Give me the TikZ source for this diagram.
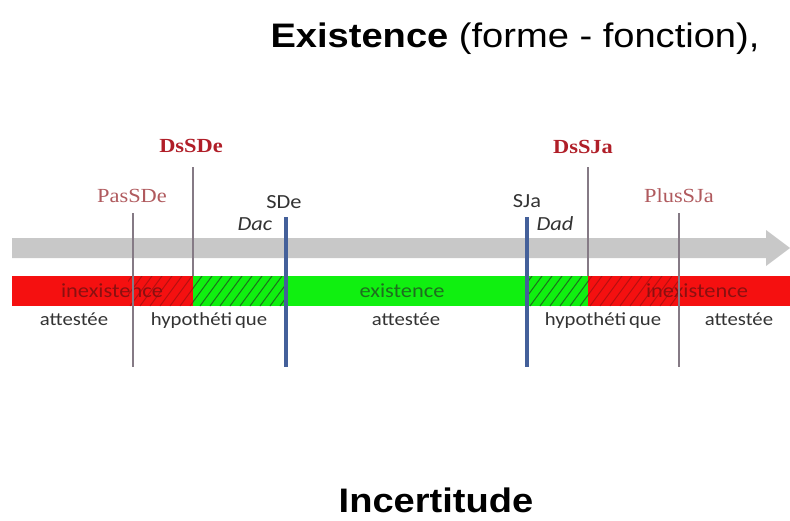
\documentclass[tikz,border=0pt]{standalone}
\usepackage{fontspec}
\setmainfont{Liberation Sans}[FakeStretch=1.12]
\newfontfamily\calfont{Carlito}[FakeStretch=1.12]
\newfontfamily\serfont{Liberation Serif}[FakeStretch=1.12]
\definecolor{arrowgray}{HTML}{C8C8C8}
\definecolor{barred}{HTML}{F51010}
\definecolor{bargreen}{HTML}{10F010}
\definecolor{hatchgreen}{HTML}{1E6E1E}
\definecolor{hatchred}{HTML}{8A1010}
\definecolor{labdark}{HTML}{B01E28}
\definecolor{labrose}{HTML}{B05A5E}
\definecolor{textgray}{HTML}{333333}
\definecolor{bluemark}{HTML}{44609A}
\definecolor{thinmark}{HTML}{857A85}
\begin{document}
\begin{tikzpicture}[x=1pt,y=-1pt,
  every node/.style={inner sep=0pt,outer sep=0pt},
  toplab/.style={anchor=base,font=\serfont\fontsize{20}{24}\selectfont},
  boldlab/.style={toplab,font=\serfont\bfseries\fontsize{20}{24}\selectfont,text=labdark},
  roselab/.style={toplab,text=labrose},
  sublab/.style={anchor=base,font=\calfont\fontsize{18.5}{22}\selectfont,text=textgray},
  datelab/.style={anchor=base,font=\calfont\fontsize{20}{24}\selectfont,text=textgray},
  itlab/.style={anchor=base,font=\calfont\itshape\fontsize{20}{24}\selectfont,text=textgray},
  barlab/.style={anchor=center,font=\calfont\fontsize{20}{24}\selectfont},
  thinline/.style={draw=thinmark,line width=1.3pt},
  blueline/.style={draw=bluemark,line width=3.4pt},
  hatchg/.style={draw=hatchgreen,line width=1pt},
  hatchr/.style={draw=hatchred,line width=1pt}]
\useasboundingbox (0,0) rectangle (790,520);
\fill[white] (0,0) rectangle (790,520);

% titles
\node[anchor=base,font=\fontsize{34}{40}\selectfont] (title) at (515,47) {\textbf{Existence} (forme - fonction),};
\node[anchor=base,font=\bfseries\fontsize{34}{40}\selectfont] (incert) at (436,512) {Incertitude};

% gray time arrow
\fill[arrowgray] (12,238) -- (766,238) -- (766,230) -- (790,248) -- (766,266) -- (766,258) -- (12,258) -- cycle;

% bar segments
\fill[barred] (12,276) rectangle (193,306);
\fill[bargreen] (193,276) rectangle (286,306);
\fill[bargreen] (286,276) rectangle (527,306);
\fill[bargreen] (527,276) rectangle (588,306);
\fill[barred] (588,276) rectangle (790,306);

% hatching
\begin{scope}
  \clip (193,276) rectangle (286,306);
  \foreach \i in {170,180,...,300} \draw[hatchg] (\i,306) -- ++(22,-30);
\end{scope}
\begin{scope}
  \clip (527,276) rectangle (588,306);
  \foreach \i in {500,510,...,600} \draw[hatchg] (\i,306) -- ++(22,-30);
\end{scope}
\begin{scope}
  \clip (128,276) rectangle (193,306);
  \foreach \i in {100,110,...,200} \draw[hatchr,opacity=0.6] (\i,306) -- ++(22,-30);
\end{scope}
\begin{scope}
  \clip (588,276) rectangle (680,306);
  \foreach \i in {560,570,...,690} \draw[hatchr,opacity=0.6] (\i,306) -- ++(22,-30);
\end{scope}

% bar texts
\node[barlab,text=hatchred] (inex1) at (112,291) {inexistence};
\node[barlab,text=hatchgreen] (ex) at (402,291) {existence};
\node[barlab,text=hatchred] (inex2) at (697,291) {inexistence};

% lower labels
\node[sublab] (att1) at (74,325) {attestée};
\node[sublab] (hyp1) at (209,325) {hypothéti\,que};
\node[sublab] (att2) at (406,325) {attestée};
\node[sublab] (hyp2) at (603,325) {hypothéti\,que};
\node[sublab] (att3) at (739,325) {attestée};

% marker coordinates
\coordinate (pasT) at (133,213);  \coordinate (pasB) at (133,367);
\coordinate (dsdT) at (193,167);  \coordinate (dsdB) at (193,276);
\coordinate (sdeT) at (286,217);  \coordinate (sdeB) at (286,367);
\coordinate (sjaT) at (527,217);  \coordinate (sjaB) at (527,367);
\coordinate (dsjT) at (588,167);  \coordinate (dsjB) at (588,276);
\coordinate (plsT) at (679,213);  \coordinate (plsB) at (679,367);

\draw[thinline] (pasT) -- (pasB);
\draw[thinline] (dsdT) -- (dsdB);
\draw[blueline] (sdeT) -- (sdeB);
\draw[blueline] (sjaT) -- (sjaB);
\draw[thinline] (dsjT) -- (dsjB);
\draw[thinline] (plsT) -- (plsB);

% upper labels
\node[boldlab] (dssde) at (191,152) {DsSDe};
\node[roselab] (passde) at (132,202) {PasSDe};
\node[datelab] (sde) at (284,208) {SDe};
\node[itlab] (dac) at (255,230) {Dac};
\node[datelab] (sja) at (527,207) {SJa};
\node[itlab] (dad) at (555,230) {Dad};
\node[boldlab] (dssja) at (583,153) {DsSJa};
\node[roselab] (plussja) at (679,202) {PlusSJa};
\end{tikzpicture}
\end{document}
